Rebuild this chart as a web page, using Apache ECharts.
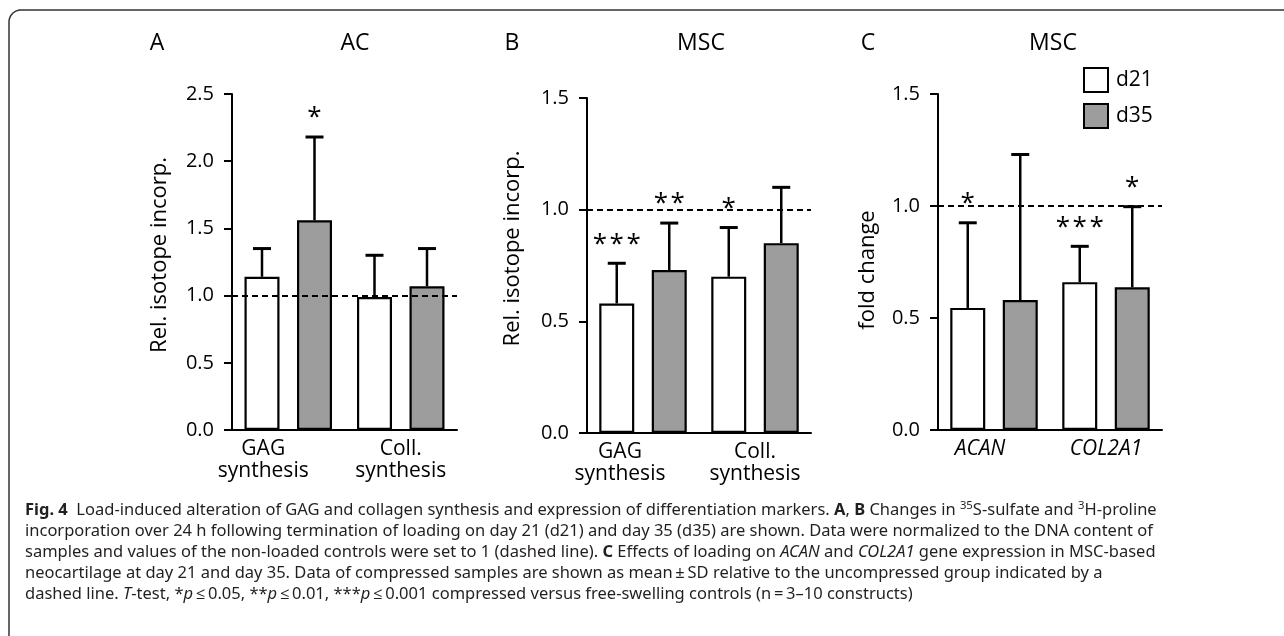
<!DOCTYPE html>
<html>
<head>
<meta charset="utf-8">
<script src="https://cdn.jsdelivr.net/npm/echarts@6/dist/echarts.min.js"></script>
<style>
  html, body { margin: 0; padding: 0; background: #fff; }
  #chart { width: 1284px; height: 636px; }
</style>
</head>
<body>
<div id="chart"></div>
<script>
// values
var catsA = ['GAG\nsynthesis', 'Coll.\nsynthesis'];
var catsB = ['GAG\nsynthesis', 'Coll.\nsynthesis'];
var catsC = ['ACAN', 'COL2A1'];

var meanA21 = [1.14, 0.99];
var sdA21 = [0.21, 0.31];
var meanA35 = [1.56, 1.07];
var sdA35 = [0.62, 0.28];
var starA21 = ['', ''];
var starA35 = ['*', ''];

var meanB21 = [0.58, 0.70];
var sdB21 = [0.18, 0.22];
var meanB35 = [0.73, 0.85];
var sdB35 = [0.21, 0.25];
var starB21 = ['***', '*'];
var starB35 = ['**', ''];

var meanC21 = [0.545, 0.66];
var sdC21 = [0.38, 0.16];
var meanC35 = [0.58, 0.637];
var sdC35 = [0.65, 0.36];
var starC21 = ['*', '***'];
var starC35 = ['', '*'];

var refLine = 1;

var captionLines = [
    '{b|Fig. 4}  Load-induced alteration of GAG and collagen synthesis and expression of differentiation markers. {b|A}, {b|B} Changes in {sup|35}S-sulfate and {sup|3}H-proline',
    'incorporation over 24 h following termination of loading on day 21 (d21) and day 35 (d35) are shown. Data were normalized to the DNA content of',
    'samples and values of the non-loaded controls were set to 1 (dashed line). {b|C} Effects of loading on {i|ACAN} and {i|COL2A1} gene expression in MSC-based',
    'neocartilage at day 21 and day 35. Data of compressed samples are shown as mean\u2009\u00b1\u2009SD relative to the uncompressed group indicated by a',
    'dashed line. {i|T}-test, *{i|p}\u2009\u2264\u20090.05, **{i|p}\u2009\u2264\u20090.01, ***{i|p}\u2009\u2264\u20090.001 compressed versus free-swelling controls (n\u2009=\u20093\u201310 constructs)'
];

var FONT = '"Open Sans", "Noto Sans", sans-serif';
var CAPFONT = '"Noto Sans", "Open Sans", sans-serif';
var GRAY = '#9d9d9d';
var BAR_W = 35;
var BAR_OFF = 26.25;

// caption width: stretch the plain second line to the printed width
var mctx = document.createElement('canvas').getContext('2d');
mctx.font = '16px "Noto Sans"';
var capScale = 1128 / mctx.measureText(captionLines[1]).width;

function errSeries(grid, means21, sds21, stars21, means35, sds35, stars35) {
    var data = [], stars = [];
    for (var i = 0; i < means21.length; i++) {
        data.push([i, means21[i], sds21[i], -1, means21[i] + sds21[i]]);
        stars.push(stars21[i]);
        data.push([i, means35[i], sds35[i], 1, means35[i] + sds35[i]]);
        stars.push(stars35[i]);
    }
    return {
        type: 'custom',
        xAxisIndex: grid,
        yAxisIndex: grid,
        z: 5,
        silent: true,
        encode: { x: 0, y: 4 },
        data: data,
        renderItem: function (params, api) {
            var cat = api.value(0);
            var m = api.value(1);
            var s = api.value(2);
            var side = api.value(3);
            var base = api.coord([cat, m]);
            var top = api.coord([cat, m + s]);
            var x = base[0] + side * BAR_OFF;
            var kids = [
                { type: 'line', shape: { x1: x, y1: base[1], x2: x, y2: top[1] },
                  style: { stroke: '#000', lineWidth: 2.5 } },
                { type: 'line', shape: { x1: x - 9, y1: top[1], x2: x + 9, y2: top[1] },
                  style: { stroke: '#000', lineWidth: 3 } }
            ];
            var st = stars[params.dataIndex];
            if (st) {
                kids.push({ type: 'text', x: x, y: top[1] - 19,
                    style: { text: st.split('').join('\u200a'), fill: '#000', font: '26px ' + FONT,
                             textAlign: 'center', textVerticalAlign: 'middle' } });
            }
            return { type: 'group', children: kids };
        }
    };
}

function barSeries(name, grid, vals, color) {
    return {
        name: name,
        type: 'bar',
        xAxisIndex: grid,
        yAxisIndex: grid,
        data: vals,
        barWidth: BAR_W,
        barGap: '50%',
        z: 3,
        itemStyle: { color: color, borderColor: '#000', borderWidth: 2.2 }
    };
}

function refSeries(grid) {
    return {
        type: 'line',
        xAxisIndex: grid,
        yAxisIndex: grid,
        data: [],
        z: 1,
        markLine: {
            silent: true,
            symbol: 'none',
            label: { show: false },
            lineStyle: { color: '#000', type: [6, 4], width: 2 },
            data: [{ yAxis: refLine }]
        }
    };
}

function xAx(grid, cats, pad, italic) {
    return {
        type: 'category',
        gridIndex: grid,
        data: cats,
        axisLine: { lineStyle: { color: '#000', width: 2 } },
        axisTick: { show: false },
        axisLabel: {
            margin: 8,
            interval: 0,
            color: '#000',
            fontFamily: FONT,
            fontSize: 21,
            lineHeight: 22,
            fontStyle: italic ? 'italic' : 'normal',
            formatter: function (v, idx) {
                return idx === 0 ? '{f|' + v.split('\n').join('}\n{f|') + '}' : v;
            },
            rich: {
                f: { fontFamily: FONT, fontSize: 21, lineHeight: 22, color: '#000',
                     fontStyle: italic ? 'italic' : 'normal', padding: [0, pad, 0, 0] }
            }
        }
    };
}

function yAx(grid, max, name, gap, npad) {
    return {
        type: 'value',
        gridIndex: grid,
        min: 0,
        max: max,
        interval: 0.5,
        name: name,
        nameLocation: 'middle',
        nameGap: gap,
        nameTextStyle: { color: '#000', fontFamily: FONT, fontSize: 22, padding: npad },
        splitLine: { show: false },
        axisLine: { show: true, lineStyle: { color: '#000', width: 2 } },
        axisTick: { show: true, length: 8, lineStyle: { color: '#000', width: 2 } },
        axisLabel: {
            margin: 18,
            color: '#000',
            fontFamily: FONT,
            fontSize: 20,
            formatter: function (v) { return v.toFixed(1); }
        }
    };
}

function title(txt, x) {
    return { type: 'text', x: x, y: 43,
        style: { text: txt, fill: '#000', font: '23px ' + FONT,
                 textAlign: 'center', textVerticalAlign: 'middle' } };
}

var capRich = {
    b: { fontFamily: CAPFONT, fontSize: 16, fontWeight: 'bold', fill: '#231f20' },
    i: { fontFamily: CAPFONT, fontSize: 16, fontStyle: 'italic', fill: '#231f20' },
    sup: { fontFamily: CAPFONT, fontSize: 11, fill: '#231f20', verticalAlign: 'top', lineHeight: 19 }
};

// frame: rounded top-left corner
var framePts = [[9, 640], [9, 22]];
for (var a = 1; a < 12; a++) {
    var t = Math.PI + (Math.PI / 2) * a / 12;
    framePts.push([21 + 12 * Math.cos(t), 22 + 12 * Math.sin(t)]);
}
framePts.push([21, 10], [1290, 10]);

var graphics = [
    { type: 'polyline', shape: { points: framePts },
      style: { stroke: '#333', lineWidth: 1.5, fill: null } },
    title('A', 157), title('AC', 355),
    title('B', 512), title('MSC', 701),
    title('C', 868), title('MSC', 1053)
];
var capY = [510, 531, 552, 573, 594];
for (var k = 0; k < captionLines.length; k++) {
    graphics.push({
        type: 'text', x: 25, y: capY[k], scaleX: capScale,
        style: { text: captionLines[k], fill: '#231f20', font: '16px ' + CAPFONT,
                 textVerticalAlign: 'middle', rich: capRich }
    });
}

var option = {
    backgroundColor: '#fff',
    animation: false,
    legend: {
        left: 1083,
        top: 67,
        padding: 0,
        orient: 'vertical',
        itemWidth: 24,
        itemHeight: 24,
        itemGap: 10,
        icon: 'rect',
        selectedMode: false,
        textStyle: { color: '#000', fontFamily: FONT, fontSize: 21, lineHeight: 24, padding: [0, 0, 0, 3] },
        data: ['d21', 'd35']
    },
    grid: [
        { left: 232, right: 827, top: 94, bottom: 206 },
        { left: 587, right: 473, top: 98, bottom: 203 },
        { left: 938, right: 122, top: 94, bottom: 206 }
    ],
    xAxis: [xAx(0, catsA, 50, false), xAx(1, catsB, 46, false), xAx(2, catsC, 28, true)],
    yAxis: [
        yAx(0, 2.5, 'Rel. isotope incorp.', 61, [0, 0, 0, 14]),
        yAx(1, 1.5, 'Rel. isotope incorp.', 63, [0, 0, 0, 34]),
        yAx(2, 1.5, 'fold change', 59, [0, 16, 0, 0])
    ],
    graphic: graphics,
    series: [
        refSeries(0), refSeries(1), refSeries(2),
        barSeries('d21', 0, meanA21, '#fff'), barSeries('d35', 0, meanA35, GRAY),
        barSeries('d21', 1, meanB21, '#fff'), barSeries('d35', 1, meanB35, GRAY),
        barSeries('d21', 2, meanC21, '#fff'), barSeries('d35', 2, meanC35, GRAY),
        errSeries(0, meanA21, sdA21, starA21, meanA35, sdA35, starA35),
        errSeries(1, meanB21, sdB21, starB21, meanB35, sdB35, starB35),
        errSeries(2, meanC21, sdC21, starC21, meanC35, sdC35, starC35)
    ]
};

var chart = echarts.init(document.getElementById('chart'));
chart.setOption(option);
</script>
</body>
</html>
